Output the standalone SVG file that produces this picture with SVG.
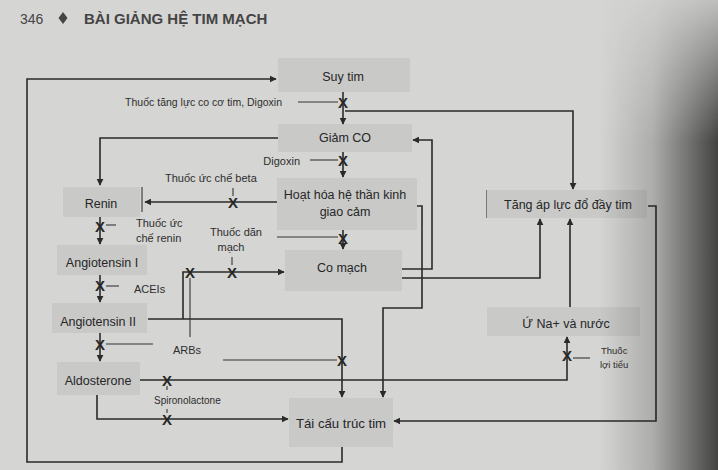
<svg xmlns="http://www.w3.org/2000/svg" width="718" height="470" viewBox="0 0 718 470">
  <defs>
    <style>
      .node rect { fill: #c9c9c8; stroke: none; }
      .lbl { font-family: "Liberation Sans", Arial, sans-serif; font-size: 12.5px; fill: #262626; text-anchor: middle; }
      .drug { font-family: "Liberation Sans", Arial, sans-serif; font-size: 10.5px; fill: #2e2e2e; }
      .xm { font-family: "Liberation Sans", Arial, sans-serif; font-size: 15px; font-weight: bold; fill: #262626; text-anchor: middle; }
      .ln { fill: none; stroke: #2a2a2a; stroke-width: 1.6; }
      .arr { marker-end: url(#ah); }
      .thin { fill: none; stroke: #353535; stroke-width: 1.1; }
    </style>
    <marker id="ah" viewBox="0 0 10 10" refX="9" refY="5" markerWidth="7" markerHeight="7" markerUnits="userSpaceOnUse" orient="auto">
      <path d="M0,0 L10,5 L0,10 z" fill="#2a2a2a"/>
    </marker>
    <linearGradient id="shade" x1="0" y1="0" x2="1" y2="0">
      <stop offset="0" stop-color="#1e1e1e" stop-opacity="0"/>
      <stop offset="0.45" stop-color="#1e1e1e" stop-opacity="0.22"/>
      <stop offset="1" stop-color="#1e1e1e" stop-opacity="0.8"/>
    </linearGradient>
    <linearGradient id="fadeV" x1="0" y1="0" x2="0" y2="1">
      <stop offset="0" stop-color="#fff" stop-opacity="0.15"/>
      <stop offset="0.3" stop-color="#fff" stop-opacity="1"/>
      <stop offset="1" stop-color="#fff" stop-opacity="1"/>
    </linearGradient>
    <mask id="shadeMask">
      <rect x="600" y="0" width="118" height="470" fill="url(#fadeV)"/>
    </mask>
  </defs>

  <!-- page -->
  <rect width="718" height="470" fill="#d5d5d3"/>

  <!-- running header -->
  <g id="header">
    <text x="20" y="24" font-family="Liberation Sans, Arial, sans-serif" font-size="14" fill="#444">346</text>
    <path d="M63,12 L67.5,18 L63,24 L58.5,18 z" fill="#444"/>
    <text x="84" y="24" font-family="Liberation Sans, Arial, sans-serif" font-size="15" font-weight="bold" fill="#444">BÀI GIẢNG HỆ TIM MẠCH</text>
  </g>

  <!-- nodes -->
  <g id="suy-tim" class="node">
    <rect x="278" y="58" width="132" height="34"/>
    <text class="lbl" x="343" y="81">Suy tim</text>
  </g>
  <g id="giam-co" class="node">
    <rect x="278" y="124" width="134" height="28"/>
    <text class="lbl" x="345" y="142">Giảm CO</text>
  </g>
  <g id="hoat-hoa" class="node">
    <rect x="277" y="178" width="140" height="52"/>
    <text class="lbl" x="345" y="199">Hoạt hóa hệ thần kinh</text>
    <text class="lbl" x="345" y="216">giao cảm</text>
  </g>
  <g id="co-mach" class="node">
    <rect x="285" y="250" width="117" height="41"/>
    <text class="lbl" x="342" y="272">Co mạch</text>
  </g>
  <g id="renin" class="node">
    <rect x="63" y="187" width="77" height="30"/>
    <text class="lbl" x="101" y="208">Renin</text>
  </g>
  <g id="angiotensin-1" class="node">
    <rect x="57" y="245" width="90" height="30"/>
    <text class="lbl" x="102" y="267">Angiotensin I</text>
  </g>
  <g id="angiotensin-2" class="node">
    <rect x="52" y="303" width="95" height="30"/>
    <text class="lbl" x="98" y="326">Angiotensin II</text>
  </g>
  <g id="aldosterone" class="node">
    <rect x="57" y="362" width="83" height="33"/>
    <text class="lbl" x="98" y="385">Aldosterone</text>
  </g>
  <g id="tai-cau-truc" class="node">
    <rect x="289" y="398" width="104" height="49"/>
    <text class="lbl" x="341" y="428" style="font-size:13.2px">Tái cấu trúc tim</text>
  </g>
  <g id="tang-ap-luc" class="node">
    <rect x="486" y="190" width="161" height="28"/>
    <line x1="486.5" y1="190" x2="486.5" y2="218" stroke="#7a7a7a" stroke-width="1"/>
    <text class="lbl" x="568" y="209">Tăng áp lực đổ đầy tim</text>
  </g>
  <g id="u-na" class="node">
    <rect x="487" y="307" width="153" height="29"/>
    <text class="lbl" x="566" y="328">Ứ Na+ và nước</text>
  </g>

  <!-- connectors -->
  <g id="connectors">
    <!-- outer feedback: remodelling back to heart failure -->
    <path class="ln arr" d="M342,447 V462 H27 V79 H276"/>
    <!-- heart failure -> low CO -->
    <path class="ln arr" d="M343,92 V124"/>
    <!-- heart failure -> filling pressure -->
    <path class="ln arr" d="M345,111 H573 V189"/>
    <!-- low CO -> sympathetic -->
    <path class="ln arr" d="M343,152 V177"/>
    <!-- low CO -> renin -->
    <path class="ln arr" d="M278,138 H100 V185"/>
    <!-- sympathetic -> renin -->
    <path class="ln arr" d="M277,202 H145"/>
    <line class="thin" x1="142" y1="187" x2="142" y2="212"/>
    <!-- sympathetic -> vasoconstriction -->
    <path class="ln arr" d="M343,230 V249"/>
    <!-- renin cascade -->
    <path class="ln arr" d="M100,217 V244"/>
    <path class="ln arr" d="M100,275 V302"/>
    <path class="ln arr" d="M100,333 V361"/>
    <!-- angiotensin II -> remodelling, and -> vasoconstriction -->
    <path class="ln arr" d="M148,319 H342 V397"/>
    <path class="ln arr" d="M183,319 V272 H284"/>
    <!-- aldosterone -> Na/water retention -->
    <path class="ln arr" d="M140,380 H567 V337"/>
    <!-- aldosterone -> remodelling -->
    <path class="ln arr" d="M97,395 V419 H288"/>
    <!-- Na/water -> filling pressure -->
    <path class="ln arr" d="M570,307 V219"/>
    <!-- vasoconstriction -> filling pressure -->
    <path class="ln arr" d="M402,278 H540 V219"/>
    <!-- vasoconstriction -> low CO -->
    <path class="ln arr" d="M402,269 H432 V140 H413"/>
    <!-- sympathetic -> remodelling -->
    <path class="ln arr" d="M417,206 H422 V308 H383 V397"/>
    <!-- filling pressure -> remodelling -->
    <path class="ln arr" d="M648,206 H656 V421 H394"/>

    <!-- drug inhibition leads -->
    <line class="thin" x1="298" y1="102" x2="338" y2="102"/>
    <line class="thin" x1="310" y1="160" x2="338" y2="160"/>
    <line class="thin" x1="233" y1="188" x2="233" y2="196"/>
    <line class="thin" x1="106" y1="225" x2="116" y2="225"/>
    <line class="thin" x1="277" y1="237" x2="338" y2="237"/>
    <line class="thin" x1="232" y1="257" x2="232" y2="265"/>
    <line class="thin" x1="106" y1="286" x2="119" y2="286"/>
    <line class="thin" x1="190" y1="278" x2="190" y2="337"/>
    <line class="thin" x1="106" y1="344" x2="153" y2="344"/>
    <line class="thin" x1="223" y1="360" x2="337" y2="360"/>
    <line class="thin" x1="167" y1="386" x2="167" y2="390"/>
    <line class="thin" x1="167" y1="409" x2="167" y2="413"/>
    <line class="thin" x1="573" y1="358" x2="590" y2="358"/>

    <!-- inhibition marks -->
    <text class="xm" x="343" y="107.5">X</text>
    <text class="xm" x="343" y="165.5">X</text>
    <text class="xm" x="233" y="207.5">X</text>
    <text class="xm" x="100" y="231.5">X</text>
    <text class="xm" x="343" y="243.5">X</text>
    <text class="xm" x="190" y="277.5">X</text>
    <text class="xm" x="232" y="277.5">X</text>
    <text class="xm" x="100" y="290.5">X</text>
    <text class="xm" x="100" y="349.5">X</text>
    <text class="xm" x="342" y="365.5">X</text>
    <text class="xm" x="167" y="385.5">X</text>
    <text class="xm" x="567" y="360.5">X</text>
    <text class="xm" x="167" y="424.5">X</text>
  </g>

  <!-- drug labels -->
  <g id="drug-labels">
    <text class="drug" x="282" y="106" text-anchor="end">Thuốc tăng lực co cơ tim, Digoxin</text>
    <text class="drug" x="300" y="165" text-anchor="end" style="font-size:11px">Digoxin</text>
    <text class="drug" x="165" y="182" style="font-size:11px">Thuốc ức chế beta</text>
    <text class="drug" x="136" y="227" style="font-size:11px">Thuốc ức</text>
    <text class="drug" x="136" y="242" style="font-size:11px">chế renin</text>
    <text class="drug" x="236" y="236" text-anchor="middle" style="font-size:11px">Thuốc dãn</text>
    <text class="drug" x="231" y="251" text-anchor="middle" style="font-size:11px">mạch</text>
    <text class="drug" x="134" y="293" style="font-size:11px">ACEIs</text>
    <text class="drug" x="173" y="354" style="font-size:11px">ARBs</text>
    <text class="drug" x="154" y="404" style="font-size:10px">Spironolactone</text>
    <text class="drug" x="601" y="354" style="font-size:9.5px">Thuốc</text>
    <text class="drug" x="600" y="368" style="font-size:9.5px">lợi tiểu</text>
  </g>

  <!-- page curl shadow at the right edge -->
  <rect x="600" y="0" width="118" height="470" fill="url(#shade)" mask="url(#shadeMask)"/>
</svg>
